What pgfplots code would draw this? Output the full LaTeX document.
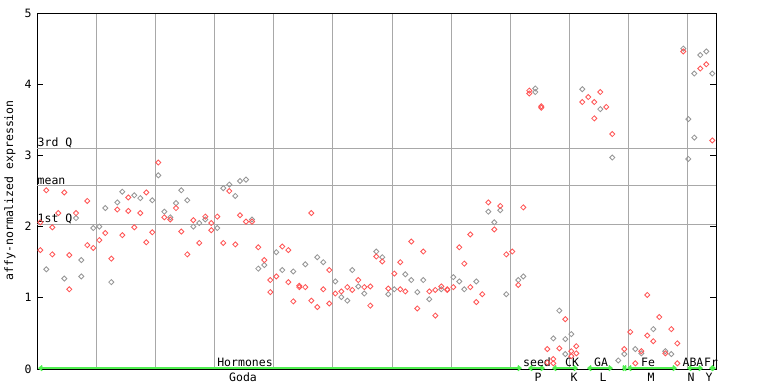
\documentclass[border=0pt]{standalone}
\usepackage{fontspec}
\setmainfont{DejaVu Sans Mono}
\usepackage{pgfplots}
\pgfplotsset{compat=1.18}
\usetikzlibrary{arrows.meta}
\definecolor{ptred}{RGB}{255,85,85}
\definecolor{ptgrey}{RGB}{150,150,150}
\definecolor{gridgrey}{RGB}{168,168,168}
\definecolor{lgreen}{RGB}{80,240,80}
\begin{document}
\begin{tikzpicture}[x=1pt,y=1pt]
\useasboundingbox (0,0) rectangle (768,384);
\begin{axis}[
  at={(37pt,15pt)}, anchor=south west,
  scale only axis, width=679pt, height=356pt,
  xmin=37, xmax=716, ymin=0, ymax=5,
  clip=false,
  axis line style={black, line width=0.9pt},
  xtick={96,155,214,273,332,392,451,510,569,628,687},
  xticklabels={},
  xmajorgrids,
  major x tick style={draw=none},
  grid style={gridgrey, line width=1pt},
  ytick={0,1,2,3,4,5},
  ytick pos=both, yticklabel pos=left,
  tick align=inside,
  major tick length=6pt,
  tick style={black, line width=0.9pt},
  /pgf/number format/assume math mode=true,
  yticklabel style={font=\fontsize{11.5}{13}\selectfont, xshift=-2pt},
  extra y ticks={2.03,2.58,3.10},
  extra y tick labels={},
  extra y tick style={grid=major, major tick length=0pt},
  every axis plot/.append style={only marks, mark=square, mark size=1.8pt, mark options={rotate=45, line width=0.85pt}},
]
% grey points
\addplot[ptgrey] coordinates {
(46.3,1.40)(64.3,1.27)(76,2.12)(81.3,1.53)(81.3,1.30)(93.3,1.98)(99.3,2.00)(105.3,2.26)
(111.3,1.22)(117.3,2.34)(122.3,2.49)(134.3,2.44)(140.3,2.40)(152.3,2.37)(158.3,2.72)
(164.3,2.21)(170.3,2.13)(176,2.33)(181.3,2.51)(187.3,2.37)(193.3,2.00)(199.3,2.05)
(205.3,2.10)(217.3,1.98)(223.3,2.54)(229.3,2.59)(235.3,2.43)(240,2.64)(246,2.66)
(252,2.10)(258.3,1.41)(264.3,1.46)(276.3,1.64)(282.3,1.39)(293.3,1.37)(305.3,1.47)
(317.3,1.57)(323.3,1.50)(335.3,1.23)(341.3,1.01)(347.3,0.96)(352.3,1.39)(358.3,1.16)
(364.3,1.06)(376.3,1.65)(382.3,1.57)(388.3,1.05)(394.3,1.12)(405.3,1.33)(411.3,1.25)
(417.3,1.08)(423.3,1.25)(429.3,0.98)(441.3,1.12)(453.3,1.29)(459.3,1.23)(464.3,1.12)
(476.3,1.23)(488.3,2.21)(494.3,2.06)(500.3,2.23)(506.3,1.05)(518.3,1.25)(523.3,1.30)
(535.3,3.94)(535.3,3.89)(553.3,0.43)(559.3,0.82)(565.3,0.42)(565.3,0.21)(571.3,0.49)
(582.3,3.93)(600.3,3.65)(612.3,2.97)(618.3,0.12)(624.3,0.21)(635.3,0.28)(641.3,0.22)
(653.3,0.56)(665.3,0.25)(671.3,0.21)(683.3,4.50)(688.3,3.51)(688.3,2.95)(694.3,4.15)
(694.3,3.25)(700.3,4.41)(706.3,4.46)(712.3,4.15)
};
% red points
\addplot[ptred] coordinates {
(40.3,2.06)(40.3,1.67)(46.3,2.51)(52.3,1.99)(52.3,1.61)(58.3,2.19)(64.3,2.48)(69.3,1.60)
(69.3,1.12)(76,2.19)(87.3,2.36)(87.3,1.74)(93.3,1.70)(99.3,1.81)(105.3,1.91)(111.3,1.55)
(117.3,2.24)(122.3,1.88)(128.3,2.41)(128.3,2.22)(134.3,1.99)(140.3,2.19)(146.3,2.48)
(146.3,1.78)(152.3,1.92)(158.3,2.90)(164.3,2.13)(170.3,2.10)(176,2.26)(181.3,1.93)
(187.3,1.61)(193.3,2.09)(199.3,1.77)(205.3,2.14)(211.3,2.05)(211.3,1.95)(217.3,2.14)
(223.3,1.77)(229.3,2.50)(235.3,1.75)(240,2.16)(246,2.07)(252,2.07)(258.3,1.71)
(264.3,1.53)(270.3,1.25)(270.3,1.08)(276.3,1.30)(282.3,1.72)(288.3,1.67)(288.3,1.22)
(293.3,0.95)(299.3,1.17)(299.3,1.15)(305.3,1.15)(311.3,2.19)(311.3,0.96)(317.3,0.87)
(323.3,1.12)(329.3,1.39)(329.3,0.92)(335.3,1.06)(341.3,1.09)(347.3,1.15)(352.3,1.11)
(358.3,1.25)(364.3,1.15)(370.3,1.16)(370.3,0.89)(376.3,1.58)(382.3,1.51)(388.3,1.13)
(394.3,1.34)(400.3,1.50)(400.3,1.12)(405.3,1.09)(411.3,1.79)(417.3,0.85)(423.3,1.65)
(429.3,1.09)(435.3,1.11)(435.3,0.75)(441.3,1.16)(447.3,1.12)(447.3,1.11)(453.3,1.15)
(459.3,1.71)(464.3,1.48)(470.3,1.89)(470.3,1.15)(476.3,0.94)(482.3,1.05)(488.3,2.34)
(494.3,1.96)(500.3,2.29)(506.3,1.61)(512.3,1.65)(518.3,1.18)(523.3,2.27)
(529.3,3.91)(529.3,3.87)(541.3,3.69)(541.3,3.67)(547.3,0.28)(547.3,0.09)(553.3,0.14)
(553.3,0.08)(559.3,0.29)(565.3,0.70)(571.3,0.25)(571.3,0.18)(576.3,0.32)(576.3,0.22)
(582.3,3.75)(588.3,3.82)(594.3,3.75)(594.3,3.52)(600.3,3.89)(606.3,3.68)(612.3,3.30)
(624.3,0.28)(630.3,0.52)(635.3,0.08)(641.3,0.25)(647.3,1.04)(647.3,0.47)(653.3,0.39)
(659.3,0.73)(665.3,0.22)(671.3,0.56)(677.3,0.36)(677.3,0.08)(683.3,4.46)(700.3,4.22)
(706.3,4.28)(712.3,3.21)
};
% quartile labels
\node[anchor=south west, inner sep=0.5pt, font=\fontsize{11.5}{13}\selectfont] at (axis cs:37,3.10) {3rd Q};
\node[anchor=south west, inner sep=0.5pt, font=\fontsize{11.5}{13}\selectfont] at (axis cs:37,2.58) {mean};
\node[anchor=south west, inner sep=0.5pt, font=\fontsize{11.5}{13}\selectfont] at (axis cs:37,2.03) {1st Q};
% green category arrows
\begin{scope}[lgreen, line width=1.5pt, arrows={Straight Barb[length=3pt,width=5pt]-Straight Barb[length=3pt,width=5pt]}]
\draw (axis cs:38,0.012) -- (axis cs:522,0.012);
\draw (axis cs:528,0.012) -- (axis cs:545,0.012);
\draw (axis cs:552,0.012) -- (axis cs:578,0.012);
\draw (axis cs:587,0.012) -- (axis cs:613,0.012);
\draw (axis cs:622,0.012) -- (axis cs:627,0.012);
\draw (axis cs:627,0.012) -- (axis cs:677,0.012);
\draw (axis cs:687,0.012) -- (axis cs:703,0.012);
\draw (axis cs:709,0.012) -- (axis cs:716,0.012);
\end{scope}
% category labels
\begin{scope}[every node/.style={inner sep=0pt, font=\fontsize{11.5}{13}\selectfont}]
\node at (axis cs:245,0.098) {Hormones};
\node at (axis cs:537,0.098) {seed};
\node at (axis cs:572,0.098) {CK};
\node at (axis cs:601,0.098) {GA};
\node at (axis cs:648,0.098) {Fe};
\node at (axis cs:693,0.098) {ABA};
\node at (axis cs:711,0.098) {Fr};
\node at (axis cs:243,-0.112) {Goda};
\node at (axis cs:538,-0.112) {P};
\node at (axis cs:574,-0.112) {K};
\node at (axis cs:603,-0.112) {L};
\node at (axis cs:651,-0.112) {M};
\node at (axis cs:691,-0.112) {N};
\node at (axis cs:709,-0.112) {Y};
\node[rotate=90] at (axis cs:10,2.51) {affy-normalized expression};
\end{scope}
\end{axis}
\end{tikzpicture}
\end{document}
